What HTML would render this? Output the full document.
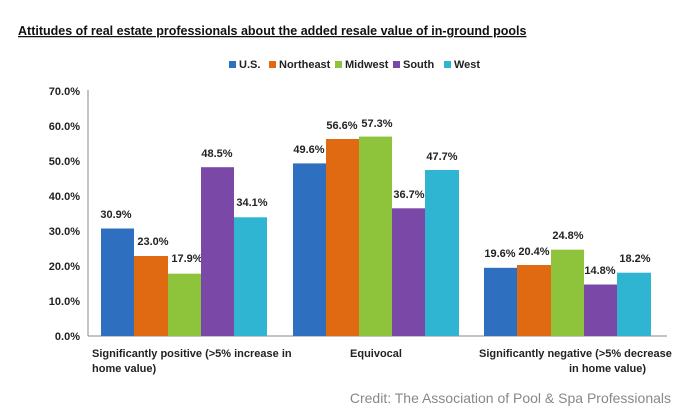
<!DOCTYPE html>
<html><head><style>
body{margin:0;background:#fff;}
svg{display:block;font-family:"Liberation Sans",Arial,sans-serif;}
</style></head><body>
<svg width="686" height="417" xmlns="http://www.w3.org/2000/svg">
<rect width="686" height="417" fill="#fff"/>
<text x="18" y="35" font-size="12.5" font-weight="bold" fill="#111" text-decoration="underline">Attitudes of real estate professionals about the added resale value of in-ground pools</text>
<g font-size="11" font-weight="bold" fill="#222">
<rect x="229" y="61" width="7" height="7" fill="#2e6fbf"/><text x="239" y="68">U.S.</text>
<rect x="269" y="61" width="7" height="7" fill="#e06a12"/><text x="279" y="68">Northeast</text>
<rect x="335" y="61" width="7" height="7" fill="#8dc43c"/><text x="345" y="68">Midwest</text>
<rect x="393" y="61" width="7" height="7" fill="#7a48a6"/><text x="403" y="68">South</text>
<rect x="444" y="61" width="7" height="7" fill="#2fb4d2"/><text x="454" y="68">West</text>
</g>
<g font-size="11" font-weight="bold" fill="#222" text-anchor="end">
<text x="80" y="340">0.0%</text><text x="80" y="305">10.0%</text><text x="80" y="270">20.0%</text>
<text x="80" y="235">30.0%</text><text x="80" y="200">40.0%</text><text x="80" y="165">50.0%</text>
<text x="80" y="130">60.0%</text><text x="80" y="95">70.0%</text>
</g>
<line x1="88" y1="90" x2="88" y2="336" stroke="#888"/>
<line x1="88" y1="336" x2="667" y2="336" stroke="#888"/>
<g font-size="11" font-weight="bold" fill="#222" text-anchor="middle">
<rect x="101" y="228.5" width="33" height="107.5" fill="#2e6fbf"/><text x="116" y="218">30.9%</text>
<rect x="134" y="256" width="34" height="80" fill="#e06a12"/><text x="153" y="245">23.0%</text>
<rect x="168" y="273.7" width="33" height="62.3" fill="#8dc43c"/><text x="187" y="262">17.9%</text>
<rect x="201" y="167.2" width="33" height="168.8" fill="#7a48a6"/><text x="217" y="157">48.5%</text>
<rect x="234" y="217.3" width="33" height="118.7" fill="#2fb4d2"/><text x="252" y="206">34.1%</text>

<rect x="293" y="163.4" width="33" height="172.6" fill="#2e6fbf"/><text x="309" y="153">49.6%</text>
<rect x="326" y="139" width="33" height="197" fill="#e06a12"/><text x="342" y="129">56.6%</text>
<rect x="359" y="136.6" width="33" height="199.4" fill="#8dc43c"/><text x="377" y="127">57.3%</text>
<rect x="392" y="208.3" width="33" height="127.7" fill="#7a48a6"/><text x="409" y="198">36.7%</text>
<rect x="425" y="170" width="34" height="166" fill="#2fb4d2"/><text x="442" y="160">47.7%</text>

<rect x="484" y="267.8" width="33" height="68.2" fill="#2e6fbf"/><text x="500" y="257">19.6%</text>
<rect x="517" y="265" width="34" height="71" fill="#e06a12"/><text x="534" y="255">20.4%</text>
<rect x="551" y="249.7" width="33" height="86.3" fill="#8dc43c"/><text x="568" y="239">24.8%</text>
<rect x="584" y="284.5" width="33" height="51.5" fill="#7a48a6"/><text x="600" y="274">14.8%</text>
<rect x="617" y="272.7" width="34" height="63.3" fill="#2fb4d2"/><text x="635" y="262">18.2%</text>
</g>
<g font-size="11" font-weight="bold" fill="#222">
<text x="92" y="357">Significantly positive (&gt;5% increase in</text>
<text x="92" y="372">home value)</text>
<text x="376" y="357" text-anchor="middle">Equivocal</text>
<text x="479" y="357">Significantly negative (&gt;5% decrease</text>
<text x="569" y="372">in home value)</text>
</g>
<text x="671" y="403" font-size="14" fill="#888" text-anchor="end">Credit: The Association of Pool &amp; Spa Professionals</text>
</svg>
</body></html>
